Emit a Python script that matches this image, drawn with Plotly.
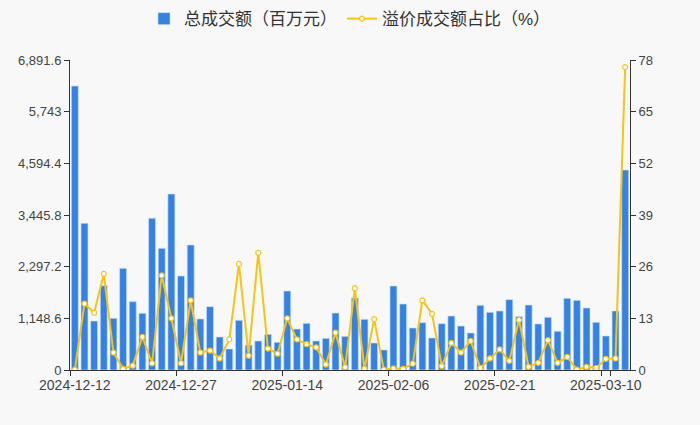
import plotly.graph_objects as go

dates = ["2024-12-12", "2024-12-13", "2024-12-16", "2024-12-17", "2024-12-18",
         "2024-12-19", "2024-12-20", "2024-12-23", "2024-12-24", "2024-12-25",
         "2024-12-26", "2024-12-27", "2024-12-30", "2024-12-31", "2025-01-02",
         "2025-01-03", "2025-01-06", "2025-01-07", "2025-01-08", "2025-01-09",
         "2025-01-10", "2025-01-13", "2025-01-14", "2025-01-15", "2025-01-16",
         "2025-01-17", "2025-01-20", "2025-01-21", "2025-01-22", "2025-01-23",
         "2025-01-24", "2025-01-27", "2025-02-05", "2025-02-06", "2025-02-07",
         "2025-02-10", "2025-02-11", "2025-02-12", "2025-02-13", "2025-02-14",
         "2025-02-17", "2025-02-18", "2025-02-19", "2025-02-20", "2025-02-21",
         "2025-02-24", "2025-02-25", "2025-02-26", "2025-02-27", "2025-02-28",
         "2025-03-03", "2025-03-04", "2025-03-05", "2025-03-06", "2025-03-07",
         "2025-03-10", "2025-03-11", "2025-03-12"]

# 总成交额（百万元）
amount = [6313, 3260, 1089, 1875, 1149, 2260, 1519, 1260, 3372, 2705,
          3912, 2090, 2779, 1134, 1408, 734, 467, 1104, 556, 645,
          793, 615, 1756, 911, 1037, 645, 704, 1267, 748, 1600,
          1126, 600, 445, 1867, 1467, 934, 1052, 711, 1030, 1200,
          978, 823, 1438, 1282, 1312, 1564, 1186, 1445, 1023, 1171,
          860, 1593, 1549, 1378, 1060, 756, 1312, 4446]

# 溢价成交额占比（%）
ratio = [0.1, 16.7, 14.4, 24.2, 4.4, 0.3, 1.1, 8.3, 1.7, 23.8,
         13.0, 1.7, 17.5, 4.4, 4.9, 2.9, 7.7, 26.7, 3.6, 29.5,
         5.4, 4.1, 13.0, 7.7, 6.5, 5.7, 1.4, 9.4, 0.7, 20.6,
         0.3, 12.8, 0.1, 0.4, 0.3, 1.6, 17.5, 14.1, 1.0, 6.8,
         4.4, 7.3, 0.5, 2.9, 5.2, 2.3, 12.6, 0.8, 1.8, 7.5,
         1.8, 3.3, 0.1, 0.8, 0.5, 2.8, 2.9, 76.2]

x_labels = ["2024-12-12", "2024-12-27", "2025-01-14", "2025-02-06", "2025-02-21", "2025-03-10"]
left_ticks = [0, 1148.6, 2297.2, 3445.8, 4594.4, 5743, 6891.6]
left_text = ["0", "1,148.6", "2,297.2", "3,445.8", "4,594.4", "5,743", "6,891.6"]
right_ticks = [0, 13, 26, 39, 52, 65, 78]

font = "Liberation Sans, Noto Sans CJK SC, sans-serif"

fig = go.Figure()
fig.add_trace(go.Bar(
    x=dates, y=amount, name="总成交额（百万元）",
    marker=dict(color="#3582e2", line=dict(color="rgba(200,222,250,0.8)", width=0.8)),
))
fig.add_trace(go.Scatter(
    x=dates, y=ratio, name="溢价成交额占比（%）", yaxis="y2",
    mode="lines+markers",
    line=dict(color="#f7c414", width=2),
    marker=dict(color="white", size=5, line=dict(color="#f7c414", width=1.2)),
))

fig.update_layout(
    width=700, height=425,
    paper_bgcolor="#f8f8f8", plot_bgcolor="#f8f8f8",
    margin=dict(l=70, r=70, t=60, b=55, autoexpand=False),
    bargap=0.28,
    font=dict(family=font, size=13, color="#333"),
    showlegend=True,
    legend=dict(orientation="h", x=0.5, xanchor="center", y=1.19, yanchor="top",
                font=dict(size=17, color="#333"), bgcolor="rgba(0,0,0,0)",
                itemwidth=30),
    xaxis=dict(
        type="category", tickvals=x_labels, ticktext=x_labels, tickangle=0,
        range=[-0.5, len(dates) - 0.5],
        tickson="boundaries", ticks="outside", ticklen=5, tickcolor="#333",
        showline=True, linecolor="#333", linewidth=1, showgrid=False,
        tickfont=dict(size=14, color="#444"), automargin=False,
        ticklabelstandoff=2,
    ),
    yaxis=dict(
        range=[0, 6891.6], tickvals=left_ticks, ticktext=left_text,
        ticks="outside", ticklen=5, tickcolor="#333", automargin=False,
        showline=True, linecolor="#333", linewidth=1, showgrid=False, zeroline=False,
        tickfont=dict(size=13, color="#444"),
    ),
    yaxis2=dict(
        range=[0, 78], tickvals=right_ticks, overlaying="y", side="right",
        ticks="outside", ticklen=5, tickcolor="#333", automargin=False,
        showline=True, linecolor="#333", linewidth=1, showgrid=False, zeroline=False,
        tickfont=dict(size=13, color="#444"),
    ),
)

fig.write_html("out.html", config={"displayModeBar": False},
               post_script="document.body.style.margin='0';document.body.style.overflow='hidden';")
